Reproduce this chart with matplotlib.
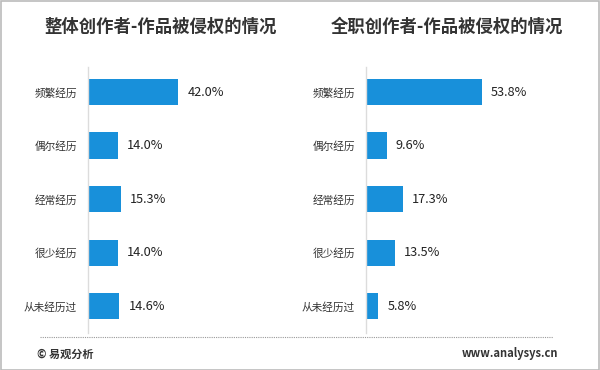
import matplotlib
matplotlib.use("Agg")
import matplotlib.pyplot as plt
from matplotlib.patches import Rectangle
from matplotlib.lines import Line2D

plt.rcParams['font.family'] = ['Noto Sans CJK SC', 'DejaVu Sans']

categories = ["频繁经历", "偶尔经历", "经常经历", "很少经历", "从未经历过"]
overall_values = [42.0, 14.0, 15.3, 14.0, 14.6]
fulltime_values = [53.8, 9.6, 17.3, 13.5, 5.8]
titles = ["整体创作者-作品被侵权的情况", "全职创作者-作品被侵权的情况"]

BAR = "#1890da"
W, H = 600, 370
fig = plt.figure(figsize=(6, 3.7), dpi=100)

def panel(left_px, values, title, title_cx):
    width_px = 200
    ax = fig.add_axes([left_px / W, 1 - 333 / H, width_px / W, (333 - 67) / H])
    xmax = width_px / 2.15
    ax.barh(range(len(categories)), values, height=0.49, color=BAR, zorder=2)
    ax.set_xlim(0, xmax)
    ax.set_ylim(4.5, -0.467)
    for s in ["top", "right", "bottom"]:
        ax.spines[s].set_visible(False)
    ax.spines["left"].set_color("#dcdcdc")
    ax.spines["left"].set_linewidth(1)
    ax.set_xticks([])
    ax.set_yticks(range(len(categories)))
    ax.set_yticklabels(categories, fontsize=7.7, color="#333333")
    ax.tick_params(axis="y", length=0, pad=8)
    ax.patch.set_alpha(0)
    for i, v in enumerate(values):
        ax.text(v + 4.2, i, f"{v:.1f}%", va="center", ha="left",
                fontsize=9.2, color="#222222")
    fig.text(title_cx / W, 1 - 27 / H, title, ha="center", va="center",
             fontsize=12.5, fontweight="bold", color="#333333")
    return ax

panel(88, overall_values, titles[0], 161)
panel(366, fulltime_values, titles[1], 447)

# dotted separator
fig.add_artist(Line2D([40 / W, 553 / W], [1 - 337 / H, 1 - 337 / H],
                      transform=fig.transFigure, color="#999999",
                      linestyle=(0, (1, 1)), linewidth=0.8))
fig.text(37 / W, 1 - 354 / H, "© 易观分析", ha="left", va="center",
         fontsize=8, fontweight="bold", color="#333333")
fig.text(462 / W, 1 - 354 / H, "www.analysys.cn", ha="left", va="center",
         fontsize=8, fontweight="bold", color="#333333")

# frame
fig.add_artist(Rectangle((0.5 / W, 0.5 / H), 1 - 1.5 / W, 1 - 1.5 / H,
                         transform=fig.transFigure, fill=False,
                         edgecolor="#bbbbbb", linewidth=1.2))

fig.savefig("out.png", dpi=100)
